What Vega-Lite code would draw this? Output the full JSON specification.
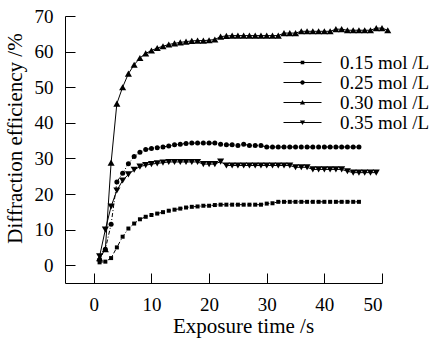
{
  "$schema": "https://vega.github.io/schema/vega-lite/v6.json",
  "width": 317,
  "height": 267,
  "autosize": "none",
  "padding": {"left": 65, "top": 16, "right": 59, "bottom": 62},
  "background": "white",
  "config": {
    "font": "Liberation Serif",
    "view": {"stroke": null},
    "axis": {
      "grid": false,
      "domainColor": "#000",
      "tickColor": "#000",
      "labelColor": "#000",
      "titleColor": "#000",
      "labelFont": "Liberation Serif",
      "titleFont": "Liberation Serif",
      "labelFontSize": 19,
      "titleFontSize": 21,
      "titleFontWeight": "normal",
      "tickSize": -10,
      "domainWidth": 1,
      "tickWidth": 1
    },
    "legend": {
      "labelFont": "Liberation Serif",
      "labelFontSize": 19,
      "labelColor": "#000"
    }
  },
  "data": {
    "values": [
      {"c": "0.15 mol /L", "t": 1, "e": 0.8}, {"c": "0.15 mol /L", "t": 2, "e": 1.0}, {"c": "0.15 mol /L", "t": 3, "e": 2.0}, {"c": "0.15 mol /L", "t": 4, "e": 5.0}, {"c": "0.15 mol /L", "t": 5, "e": 8.0}, {"c": "0.15 mol /L", "t": 6, "e": 10.3}, {"c": "0.15 mol /L", "t": 7, "e": 11.7}, {"c": "0.15 mol /L", "t": 8, "e": 12.9}, {"c": "0.15 mol /L", "t": 9, "e": 13.6}, {"c": "0.15 mol /L", "t": 10, "e": 14.1},
      {"c": "0.15 mol /L", "t": 11, "e": 14.5}, {"c": "0.15 mol /L", "t": 12, "e": 14.9}, {"c": "0.15 mol /L", "t": 13, "e": 15.3}, {"c": "0.15 mol /L", "t": 14, "e": 15.6}, {"c": "0.15 mol /L", "t": 15, "e": 15.9}, {"c": "0.15 mol /L", "t": 16, "e": 16.2}, {"c": "0.15 mol /L", "t": 17, "e": 16.4}, {"c": "0.15 mol /L", "t": 18, "e": 16.5}, {"c": "0.15 mol /L", "t": 19, "e": 16.7}, {"c": "0.15 mol /L", "t": 20, "e": 16.7},
      {"c": "0.15 mol /L", "t": 21, "e": 16.9}, {"c": "0.15 mol /L", "t": 22, "e": 17.0}, {"c": "0.15 mol /L", "t": 23, "e": 17.0}, {"c": "0.15 mol /L", "t": 24, "e": 17.0}, {"c": "0.15 mol /L", "t": 25, "e": 17.0}, {"c": "0.15 mol /L", "t": 26, "e": 17.0}, {"c": "0.15 mol /L", "t": 27, "e": 17.0}, {"c": "0.15 mol /L", "t": 28, "e": 17.0}, {"c": "0.15 mol /L", "t": 29, "e": 17.0}, {"c": "0.15 mol /L", "t": 30, "e": 17.3},
      {"c": "0.15 mol /L", "t": 31, "e": 17.4}, {"c": "0.15 mol /L", "t": 32, "e": 17.8}, {"c": "0.15 mol /L", "t": 33, "e": 17.8}, {"c": "0.15 mol /L", "t": 34, "e": 17.8}, {"c": "0.15 mol /L", "t": 35, "e": 17.8}, {"c": "0.15 mol /L", "t": 36, "e": 17.8}, {"c": "0.15 mol /L", "t": 37, "e": 17.8}, {"c": "0.15 mol /L", "t": 38, "e": 17.8}, {"c": "0.15 mol /L", "t": 39, "e": 17.8}, {"c": "0.15 mol /L", "t": 40, "e": 17.8},
      {"c": "0.15 mol /L", "t": 41, "e": 17.8}, {"c": "0.15 mol /L", "t": 42, "e": 17.8}, {"c": "0.15 mol /L", "t": 43, "e": 17.8}, {"c": "0.15 mol /L", "t": 44, "e": 17.8}, {"c": "0.15 mol /L", "t": 45, "e": 17.8}, {"c": "0.15 mol /L", "t": 46, "e": 17.8},

      {"c": "0.25 mol /L", "t": 1, "e": 1.5}, {"c": "0.25 mol /L", "t": 2, "e": 4.5}, {"c": "0.25 mol /L", "t": 3, "e": 11.5}, {"c": "0.25 mol /L", "t": 4, "e": 23.4}, {"c": "0.25 mol /L", "t": 5, "e": 25.8}, {"c": "0.25 mol /L", "t": 6, "e": 28.5}, {"c": "0.25 mol /L", "t": 7, "e": 30.5}, {"c": "0.25 mol /L", "t": 8, "e": 31.7}, {"c": "0.25 mol /L", "t": 9, "e": 32.5}, {"c": "0.25 mol /L", "t": 10, "e": 32.8},
      {"c": "0.25 mol /L", "t": 11, "e": 33.0}, {"c": "0.25 mol /L", "t": 12, "e": 33.2}, {"c": "0.25 mol /L", "t": 13, "e": 33.5}, {"c": "0.25 mol /L", "t": 14, "e": 33.8}, {"c": "0.25 mol /L", "t": 15, "e": 34.0}, {"c": "0.25 mol /L", "t": 16, "e": 34.2}, {"c": "0.25 mol /L", "t": 17, "e": 34.3}, {"c": "0.25 mol /L", "t": 18, "e": 34.3}, {"c": "0.25 mol /L", "t": 19, "e": 34.3}, {"c": "0.25 mol /L", "t": 20, "e": 34.3},
      {"c": "0.25 mol /L", "t": 21, "e": 34.3}, {"c": "0.25 mol /L", "t": 22, "e": 34.0}, {"c": "0.25 mol /L", "t": 23, "e": 33.8}, {"c": "0.25 mol /L", "t": 24, "e": 33.8}, {"c": "0.25 mol /L", "t": 25, "e": 33.6}, {"c": "0.25 mol /L", "t": 26, "e": 34.0}, {"c": "0.25 mol /L", "t": 27, "e": 33.6}, {"c": "0.25 mol /L", "t": 28, "e": 33.6}, {"c": "0.25 mol /L", "t": 29, "e": 33.6}, {"c": "0.25 mol /L", "t": 30, "e": 33.2},
      {"c": "0.25 mol /L", "t": 31, "e": 33.2}, {"c": "0.25 mol /L", "t": 32, "e": 33.2}, {"c": "0.25 mol /L", "t": 33, "e": 33.2}, {"c": "0.25 mol /L", "t": 34, "e": 33.2}, {"c": "0.25 mol /L", "t": 35, "e": 33.2}, {"c": "0.25 mol /L", "t": 36, "e": 33.2}, {"c": "0.25 mol /L", "t": 37, "e": 33.2}, {"c": "0.25 mol /L", "t": 38, "e": 33.2}, {"c": "0.25 mol /L", "t": 39, "e": 33.2}, {"c": "0.25 mol /L", "t": 40, "e": 33.2},
      {"c": "0.25 mol /L", "t": 41, "e": 33.2}, {"c": "0.25 mol /L", "t": 42, "e": 33.2}, {"c": "0.25 mol /L", "t": 43, "e": 33.2}, {"c": "0.25 mol /L", "t": 44, "e": 33.2}, {"c": "0.25 mol /L", "t": 45, "e": 33.2}, {"c": "0.25 mol /L", "t": 46, "e": 33.2},

      {"c": "0.30 mol /L", "t": 1, "e": 2.0}, {"c": "0.30 mol /L", "t": 2, "e": 4.5}, {"c": "0.30 mol /L", "t": 3, "e": 28.8}, {"c": "0.30 mol /L", "t": 4, "e": 45.4}, {"c": "0.30 mol /L", "t": 5, "e": 50.0}, {"c": "0.30 mol /L", "t": 6, "e": 53.8}, {"c": "0.30 mol /L", "t": 7, "e": 56.3}, {"c": "0.30 mol /L", "t": 8, "e": 58.2}, {"c": "0.30 mol /L", "t": 9, "e": 59.5}, {"c": "0.30 mol /L", "t": 10, "e": 60.3},
      {"c": "0.30 mol /L", "t": 11, "e": 61.0}, {"c": "0.30 mol /L", "t": 12, "e": 61.5}, {"c": "0.30 mol /L", "t": 13, "e": 62.0}, {"c": "0.30 mol /L", "t": 14, "e": 62.3}, {"c": "0.30 mol /L", "t": 15, "e": 62.6}, {"c": "0.30 mol /L", "t": 16, "e": 62.8}, {"c": "0.30 mol /L", "t": 17, "e": 63.0}, {"c": "0.30 mol /L", "t": 18, "e": 63.1}, {"c": "0.30 mol /L", "t": 19, "e": 63.1}, {"c": "0.30 mol /L", "t": 20, "e": 63.2},
      {"c": "0.30 mol /L", "t": 21, "e": 63.4}, {"c": "0.30 mol /L", "t": 22, "e": 64.2}, {"c": "0.30 mol /L", "t": 23, "e": 64.4}, {"c": "0.30 mol /L", "t": 24, "e": 64.5}, {"c": "0.30 mol /L", "t": 25, "e": 64.5}, {"c": "0.30 mol /L", "t": 26, "e": 64.5}, {"c": "0.30 mol /L", "t": 27, "e": 64.5}, {"c": "0.30 mol /L", "t": 28, "e": 64.5}, {"c": "0.30 mol /L", "t": 29, "e": 64.5}, {"c": "0.30 mol /L", "t": 30, "e": 64.5},
      {"c": "0.30 mol /L", "t": 31, "e": 64.5}, {"c": "0.30 mol /L", "t": 32, "e": 64.5}, {"c": "0.30 mol /L", "t": 33, "e": 65.2}, {"c": "0.30 mol /L", "t": 34, "e": 65.2}, {"c": "0.30 mol /L", "t": 35, "e": 65.2}, {"c": "0.30 mol /L", "t": 36, "e": 65.7}, {"c": "0.30 mol /L", "t": 37, "e": 65.7}, {"c": "0.30 mol /L", "t": 38, "e": 65.7}, {"c": "0.30 mol /L", "t": 39, "e": 65.7}, {"c": "0.30 mol /L", "t": 40, "e": 65.7},
      {"c": "0.30 mol /L", "t": 41, "e": 65.7}, {"c": "0.30 mol /L", "t": 42, "e": 66.3}, {"c": "0.30 mol /L", "t": 43, "e": 66.3}, {"c": "0.30 mol /L", "t": 44, "e": 66.0}, {"c": "0.30 mol /L", "t": 45, "e": 66.0}, {"c": "0.30 mol /L", "t": 46, "e": 66.0}, {"c": "0.30 mol /L", "t": 47, "e": 66.0}, {"c": "0.30 mol /L", "t": 48, "e": 66.0}, {"c": "0.30 mol /L", "t": 49, "e": 66.6}, {"c": "0.30 mol /L", "t": 50, "e": 66.6},
      {"c": "0.30 mol /L", "t": 51, "e": 66.0},

      {"c": "0.35 mol /L", "t": 1, "e": 2.5}, {"c": "0.35 mol /L", "t": 2, "e": 10.0}, {"c": "0.35 mol /L", "t": 3, "e": 16.5}, {"c": "0.35 mol /L", "t": 4, "e": 21.0}, {"c": "0.35 mol /L", "t": 5, "e": 23.8}, {"c": "0.35 mol /L", "t": 6, "e": 25.5}, {"c": "0.35 mol /L", "t": 7, "e": 26.8}, {"c": "0.35 mol /L", "t": 8, "e": 27.7}, {"c": "0.35 mol /L", "t": 9, "e": 28.1}, {"c": "0.35 mol /L", "t": 10, "e": 28.4},
      {"c": "0.35 mol /L", "t": 11, "e": 28.6}, {"c": "0.35 mol /L", "t": 12, "e": 28.8}, {"c": "0.35 mol /L", "t": 13, "e": 29.0}, {"c": "0.35 mol /L", "t": 14, "e": 29.0}, {"c": "0.35 mol /L", "t": 15, "e": 29.0}, {"c": "0.35 mol /L", "t": 16, "e": 29.0}, {"c": "0.35 mol /L", "t": 17, "e": 29.0}, {"c": "0.35 mol /L", "t": 18, "e": 29.0}, {"c": "0.35 mol /L", "t": 19, "e": 28.4}, {"c": "0.35 mol /L", "t": 20, "e": 28.4},
      {"c": "0.35 mol /L", "t": 21, "e": 28.4}, {"c": "0.35 mol /L", "t": 22, "e": 29.1}, {"c": "0.35 mol /L", "t": 23, "e": 28.0}, {"c": "0.35 mol /L", "t": 24, "e": 28.0}, {"c": "0.35 mol /L", "t": 25, "e": 28.0}, {"c": "0.35 mol /L", "t": 26, "e": 28.0}, {"c": "0.35 mol /L", "t": 27, "e": 28.0}, {"c": "0.35 mol /L", "t": 28, "e": 28.0}, {"c": "0.35 mol /L", "t": 29, "e": 28.0}, {"c": "0.35 mol /L", "t": 30, "e": 28.0},
      {"c": "0.35 mol /L", "t": 31, "e": 28.0}, {"c": "0.35 mol /L", "t": 32, "e": 28.0}, {"c": "0.35 mol /L", "t": 33, "e": 28.0}, {"c": "0.35 mol /L", "t": 34, "e": 28.0}, {"c": "0.35 mol /L", "t": 35, "e": 27.5}, {"c": "0.35 mol /L", "t": 36, "e": 27.5}, {"c": "0.35 mol /L", "t": 37, "e": 27.5}, {"c": "0.35 mol /L", "t": 38, "e": 26.9}, {"c": "0.35 mol /L", "t": 39, "e": 26.9}, {"c": "0.35 mol /L", "t": 40, "e": 26.9},
      {"c": "0.35 mol /L", "t": 41, "e": 26.9}, {"c": "0.35 mol /L", "t": 42, "e": 26.9}, {"c": "0.35 mol /L", "t": 43, "e": 26.9}, {"c": "0.35 mol /L", "t": 44, "e": 26.4}, {"c": "0.35 mol /L", "t": 45, "e": 26.0}, {"c": "0.35 mol /L", "t": 46, "e": 26.0}, {"c": "0.35 mol /L", "t": 47, "e": 26.0}, {"c": "0.35 mol /L", "t": 48, "e": 26.0}, {"c": "0.35 mol /L", "t": 49, "e": 26.0}
    ]
  },
  "encoding": {
    "x": {
      "field": "t", "type": "quantitative",
      "scale": {"domain": [-5, 50], "nice": false, "zero": false},
      "axis": {"values": [0, 10, 20, 30, 40, 50], "title": "Exposure time /s", "labelPadding": 22, "titleX": 178, "titleY": 49, "titleBaseline": "alphabetic", "titleAnchor": "middle"}
    },
    "y": {
      "field": "e", "type": "quantitative",
      "scale": {"domain": [-5, 70], "nice": false, "zero": false},
      "axis": {"values": [0, 10, 20, 30, 40, 50, 60, 70], "title": "Diffraction efficiency /%", "labelPadding": 22, "titleX": -50, "titleY": 122, "titleAngle": -90, "titleAlign": "center", "titleBaseline": "middle"}
    }
  },
  "layer": [
    {
      "transform": [{"filter": "datum.c === '0.15 mol /L' || datum.c === '0.25 mol /L'"}],
      "mark": {"type": "line", "strokeWidth": 1, "color": "black", "strokeDash": [4, 2, 1, 2]},
      "encoding": {"detail": {"field": "c"}}
    },
    {
      "transform": [{"filter": "datum.c === '0.30 mol /L' || datum.c === '0.35 mol /L'"}],
      "mark": {"type": "line", "strokeWidth": 1, "color": "black"},
      "encoding": {"detail": {"field": "c"}}
    },
    {
      "transform": [{"filter": "datum.c === '0.15 mol /L'"}],
      "mark": {"type": "point", "shape": "square", "filled": true, "fill": "black", "strokeWidth": 0, "opacity": 1, "size": 16},
      "encoding": {}
    },
    {
      "transform": [{"filter": "datum.c === '0.25 mol /L'"}],
      "mark": {"type": "point", "shape": "circle", "filled": true, "fill": "black", "strokeWidth": 0, "opacity": 1, "size": 25},
      "encoding": {}
    },
    {
      "transform": [{"filter": "datum.c === '0.30 mol /L'"}],
      "mark": {"type": "point", "shape": "triangle-up", "filled": true, "fill": "black", "strokeWidth": 0, "opacity": 1, "size": 50},
      "encoding": {}
    },
    {
      "transform": [{"filter": "datum.c === '0.35 mol /L'"}],
      "mark": {"type": "point", "shape": "triangle-down", "filled": true, "fill": "black", "strokeWidth": 0, "opacity": 1, "size": 50},
      "encoding": {}
    },
    {
      "transform": [{"filter": "datum.t < 0"}],
      "mark": {"type": "point", "filled": true, "fill": "black", "strokeWidth": 0, "opacity": 1, "size": 16},
      "encoding": {
        "shape": {
          "field": "c", "type": "nominal",
          "scale": {"domain": ["0.15 mol /L", "0.25 mol /L", "0.30 mol /L", "0.35 mol /L"], "range": ["M-9.5,-0.25H9.5V0.25H-9.5ZM-0.9,-0.9H0.9V0.9H-0.9Z", "M-9.5,-0.25H9.5V0.25H-9.5ZM1.1,0A1.1,1.1 0 1,1 -1.1,0A1.1,1.1 0 1,1 1.1,0Z", "M-9.5,-0.25H9.5V0.25H-9.5ZM-1.3,1L0,-1.3L1.3,1Z", "M-9.5,-0.25H9.5V0.25H-9.5ZM-1.3,-1L1.3,-1L0,1.3Z"]},
          "legend": {
            "title": null,
            "orient": "none",
            "legendX": 228,
            "legendY": 37,
            "padding": 0,
            "labelOffset": 28,
            "rowPadding": 0,
            "symbolSize": 16,
            "symbolFillColor": "#000",
            "encode": {
              "symbols": {
                "update": {
                  "fill": {"value": "#000"},
                  "fillOpacity": {"value": 1},
                  "opacity": {"value": 1}
                }
              }
            }
          }
        }
      }
    }
  ]
}
